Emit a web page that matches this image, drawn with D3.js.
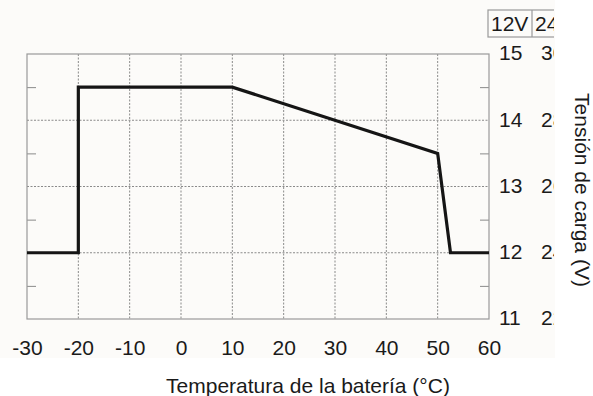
<!DOCTYPE html>
<html>
<head>
<meta charset="utf-8">
<script src="https://cdn.jsdelivr.net/npm/d3@7"></script>
<style>
  body { margin: 0; background: #fff; }
  text { font-family: "Liberation Sans", Arial, sans-serif; fill: #1a1a1a; }
</style>
</head>
<body>
<div id="chart"></div>
<script>
var width = 593
var height = 396

// curve points
const temps = [-30, -20, -20, 10, 50, 52.5, 60];
const volts = [12, 12, 14.5, 14.5, 13.5, 12, 12];

const xTicks = [-30, -20, -10, 0, 10, 20, 30, 40, 50, 60];
const yTicks = [11, 12, 13, 14, 15];
const yMinor = [11.5, 12.5, 13.5, 14.5];
const labels12V = ["11", "12", "13", "14", "15"];
const labels24V = ["22", "24", "26", "28", "30"];
const headers = ["12V", "24V"];

const xAxisLabel = "Temperatura de la batería (°C)";
const yAxisLabel = "Tensión de carga (V)";

const margin = {top: 54, right: 104, bottom: 77, left: 27};
const innerWidth = width - margin.left - margin.right;
const innerHeight = height - margin.top - margin.bottom;

const svg = d3.select("#chart").append("svg")
    .attr("width", width)
    .attr("height", height);

// slightly off-white figure area
svg.append("rect")
    .attr("width", 555).attr("height", 358)
    .attr("fill", "#fcfbf9");

svg.append("clipPath").attr("id", "crop")
  .append("rect").attr("width", 554).attr("height", height);

const xScale = d3.scaleLinear().domain([-30, 60]).range([0, innerWidth]);
const yScale = d3.scaleLinear().domain([11, 15]).range([innerHeight, 0]);

const g = svg.append("g")
    .attr("transform", `translate(${margin.left}, ${margin.top})`);

// dashed grid
g.append("g").selectAll("line")
  .data(xTicks.slice(1, -1))
  .join("line")
    .attr("x1", d => xScale(d)).attr("x2", d => xScale(d))
    .attr("y1", 0).attr("y2", innerHeight)
    .attr("stroke", "#8a8a8a").attr("stroke-width", 1)
    .attr("stroke-dasharray", "2,1.5");

g.append("g").selectAll("line")
  .data(yTicks.slice(1, -1))
  .join("line")
    .attr("y1", d => yScale(d)).attr("y2", d => yScale(d))
    .attr("x1", 0).attr("x2", innerWidth)
    .attr("stroke", "#8a8a8a").attr("stroke-width", 1)
    .attr("stroke-dasharray", "2,1.5");

// minor ticks inside the frame
const leftAxis = d3.axisRight(yScale).tickValues(yMinor).tickSize(9).tickFormat("");
const rightAxis = d3.axisLeft(yScale).tickValues(yMinor).tickSize(9).tickFormat("");
const lg = g.append("g").call(leftAxis);
const rg = g.append("g").attr("transform", `translate(${innerWidth},0)`).call(rightAxis);
[lg, rg].forEach(a => {
  a.select(".domain").remove();
  a.selectAll("line").attr("stroke", "#8a8a8a");
});

// frame
g.append("rect")
    .attr("width", innerWidth).attr("height", innerHeight)
    .attr("fill", "none").attr("stroke", "#999").attr("stroke-width", 1.2);

// x tick labels (plain hyphen for negatives, as in the original)
const xAxis = d3.axisBottom(xScale)
    .tickValues(xTicks)
    .tickFormat(d => String(d))
    .tickSize(0)
    .tickPadding(21);
const xAxisG = g.append("g").attr("transform", `translate(0, ${innerHeight})`).call(xAxis);
xAxisG.select(".domain").remove();
xAxisG.selectAll("text")
    .style("font-family", "Liberation Sans, Arial, sans-serif")
    .style("font-size", "21px")
    .attr("fill", "#1a1a1a");

// right-hand voltage labels, two columns, cropped at the figure edge
const rl = svg.append("g").attr("clip-path", "url(#crop)");
rl.selectAll(".v12")
  .data(yTicks)
  .join("text")
    .attr("x", 499)
    .attr("y", d => margin.top + yScale(d))
    .attr("dy", "0.3em")
    .style("font-size", "21px")
    .text((d, i) => labels12V[i]);
rl.selectAll(".v24")
  .data(yTicks)
  .join("text")
    .attr("x", 541)
    .attr("y", d => margin.top + yScale(d))
    .attr("dy", "0.3em")
    .style("font-size", "21px")
    .text((d, i) => labels24V[i]);

// header box
rl.append("rect")
    .attr("x", 488).attr("y", 10).attr("width", 90).attr("height", 27)
    .attr("fill", "none").attr("stroke", "#999").attr("stroke-width", 1.2);
rl.append("line")
    .attr("x1", 532).attr("x2", 532).attr("y1", 10).attr("y2", 37)
    .attr("stroke", "#999").attr("stroke-width", 1.2);
rl.append("text").attr("x", 491).attr("y", 31).style("font-size", "21px").text(headers[0]);
rl.append("text").attr("x", 535).attr("y", 31).style("font-size", "21px").text(headers[1]);

// curve
const lineGenerator = d3.line()
    .x((d, i) => xScale(temps[i]))
    .y(d => yScale(d));

g.append("path")
    .attr("d", lineGenerator(volts))
    .attr("fill", "none")
    .attr("stroke", "#151515")
    .attr("stroke-width", 3.2)
    .attr("stroke-linejoin", "miter");

// axis titles
svg.append("text")
    .attr("x", 308).attr("y", 393)
    .attr("text-anchor", "middle")
    .style("font-size", "21px")
    .text(xAxisLabel);

svg.append("text")
    .attr("transform", "translate(575, 190) rotate(90)")
    .attr("text-anchor", "middle")
    .style("font-size", "21px")
    .text(yAxisLabel);
</script>
</body>
</html>
